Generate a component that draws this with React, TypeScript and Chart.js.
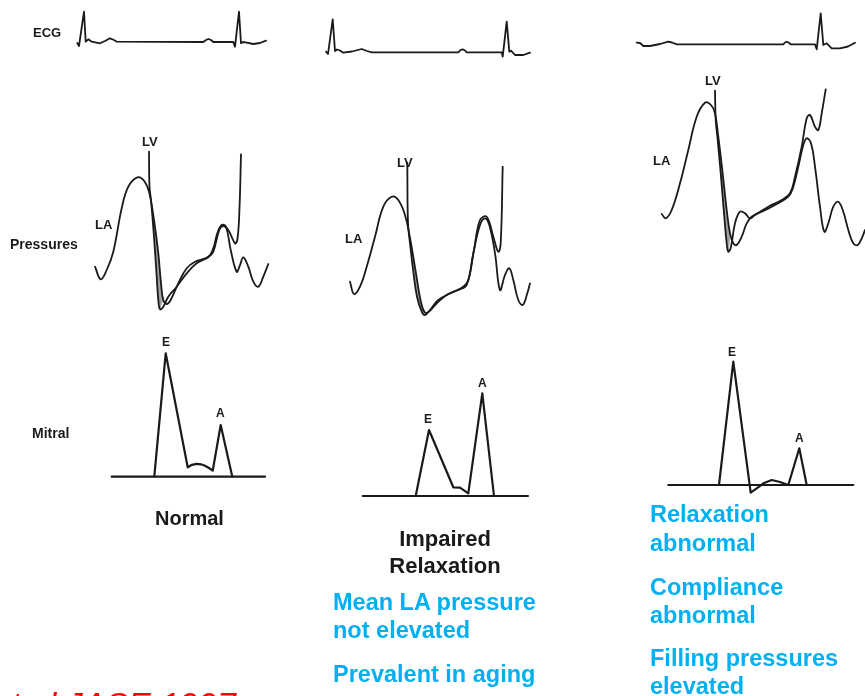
import React, { useEffect, useRef } from "react";
import { Chart, registerables } from "chart.js";

Chart.register(...registerables);

type P = [number, number];

// ---- ECG traces ----
const ecgNormal: P[] = [[77.3,43],[79,46],[84,11.7],[85.7,41.7],[88.3,39.3],[91.7,41.7],[100,43.3],[105,41],[110,38.3],[114,40],[116.7,41.7],[203.3,42],[206,40],[208.3,39],[211,40],[213.3,42],[233.3,42],[235,46.7],[239,11.7],[241,43.3],[243,42],[246.7,42.7],[253.3,44],[260,43],[266,40.7]];
const ecgImpaired: P[] = [[326,51.7],[328,54],[332.7,19.3],[335,51],[337,49.5],[340,50.5],[343.3,52.7],[352,51.5],[361.7,49],[367,51],[371.7,52.3],[458.3,52.3],[460.5,50],[462.7,49.3],[465,50.5],[466.7,52.3],[501.7,52.3],[502.7,56.7],[506.7,21.7],[509.3,51.7],[511,50.7],[515,55],[523.3,55],[530,52.7]];
const ecgRestrictive: P[] = [[636.7,42.7],[640,43],[643.3,46],[650,46],[660,44],[668.3,41.7],[672,42.5],[676.7,44.3],[783.3,44.3],[785,42.5],[786.7,41.7],[788.5,42.5],[790.7,44.3],[815,44.3],[816.7,49.3],[820.7,13.3],[823.3,45],[826.7,43.3],[831.7,48.3],[840,48.3],[848,46.5],[855,42.7]];

// ---- Pressure traces (LA / LV) ----
const laNormal: P[] = [[95,266.7],[100.7,279.3],[106.7,270],[113.3,251.7],[121.7,208.3],[128.3,186.7],[137.3,177.3],[144,180.7],[149,191.7],[154,220],[158.3,253.3],[161,283.3],[163.3,300],[166.7,304],[170.7,300],[178.3,283.3],[186.7,268.3],[195,261.7],[208.3,256.7],[213.3,248.3],[217.3,233.3],[221.7,225],[226,226.7],[230.7,250],[236.7,271.7],[240,265],[243.3,257.3],[248.3,266.7],[253.3,281.7],[258.3,286.7],[263.3,276.7],[268.3,264]];
const lvNormal: P[] = [[149,151.7],[149.5,186.7],[151,200],[154,236.7],[156.7,276.7],[158.3,300],[160,309.3],[163.3,306.7],[168.3,296.7],[176.7,286.7],[186.7,273.3],[196.7,263.3],[208.3,257.3],[213.3,251.7],[219.3,230],[223.3,226],[228.3,230],[235,243.3],[237.3,240],[239.3,213.3],[241,154.3]];
const gradNormal: P[] = [[151,200],[154,236.7],[156.7,276.7],[158.3,300],[160,309.3],[163.3,300],[161,283.3],[158.3,253.3],[154,220],[151.5,202]];

const laImpaired: P[] = [[350,281.7],[354,294],[360,286.7],[366.7,266.7],[375,236.7],[383.3,206.7],[391.7,196.7],[398.3,200],[405,215],[410,238],[416,273.3],[420.5,300],[425,312.7],[430,310.7],[436.7,303.3],[446.7,295],[458.3,290],[466.7,285],[473.3,253.3],[480,225],[485,218.3],[489.3,225],[495,253.3],[500,290],[505,275],[509.3,268.3],[513.3,280],[518.3,300],[522.7,305],[527.3,293.3],[530,283.3]];
const lvImpaired: P[] = [[407.3,162.7],[408,223.3],[410,243.3],[413.5,273.3],[417,296.7],[421.7,311.7],[425,315],[430,310],[438.3,300],[450,293.3],[463.3,286.7],[468.3,280],[474,250],[480,220],[486.7,216.7],[493.3,236.7],[498.3,251.7],[500.7,243.3],[502.7,166.7]];
const gradImpaired: P[] = [[408.5,228],[410,243.3],[413.5,273.3],[417,296.7],[421.7,311.7],[425,313],[420.5,300],[416,273.3],[410.5,240]];

const laRestrictive: P[] = [[661.7,214],[665.7,218.3],[671.7,210],[680,183.3],[688.3,150],[696.7,116.7],[705,102.7],[711,105],[715,113.3],[718.3,136.7],[722.3,170],[726.7,210],[730,233.3],[733.3,243.3],[736.7,245],[741.7,236.7],[746.7,223.3],[751.7,216.7],[761.7,211.7],[775,205],[788.3,196.7],[793.3,186.7],[798.3,166.7],[803.3,145],[806.7,138.3],[811,143.3],[815,166.7],[820,206.7],[824.3,231.7],[828.3,223.3],[833.3,206.7],[838.3,201.7],[843.3,211.7],[848.3,230],[853.3,243.3],[857.7,245],[861.7,238.3],[865,230]];
const lvRestrictive: P[] = [[715,90.7],[715.7,120],[717.7,140],[721,176.7],[724.3,216.7],[726.7,243.3],[728.3,251.7],[731,246.7],[735,223.3],[740,211.7],[745,213.3],[750,218.3],[755,215],[768.3,206.7],[781.7,200],[790,193.3],[795,176.7],[801.7,146.7],[806.7,118.3],[810,115],[815,126.7],[818.3,130],[821.7,113.3],[825.7,89.3]];
const gradRestrictive: P[] = [[716.3,128],[717.7,140],[721,176.7],[724.3,216.7],[726.7,243.3],[728.3,251.7],[730,240],[730,233.3],[726.7,210],[722.3,170],[718.3,136.7]];

// ---- Mitral inflow traces ----
const mitralNormal: P[] = [[154.3,476.7],[165.7,353.3],[187.7,467.3],[192,464.8],[196.7,463.8],[201,464.3],[205,465.7],[209,468],[212.7,470.7],[220.7,425],[232.3,476.7]];
const mitralNormalBase: P[] = [[111.7,476.7],[265,476.7]];
const mitralImpaired: P[] = [[415.7,496],[429,430],[453.3,487.3],[460,487.7],[468.3,493.3],[482.3,393.3],[494,496]];
const mitralImpairedBase: P[] = [[362.7,496],[528,496]];
const mitralRestrictive: P[] = [[719,485],[733.3,361.7],[750.7,492.7],[756.7,488.3],[764,483],[771.7,480],[780,482],[788.3,485],[799.3,448.3],[806.7,485]];
const mitralRestrictiveBase: P[] = [[668.3,485],[853.3,485]];

const INK = "#1a1a1a";
const BLUE = "#00b0f0";
const SANS = '"Liberation Sans", Arial, Helvetica, sans-serif';

type T = { t: string; x: number; b: number; s: number; c?: string; w?: string; i?: boolean; center?: boolean };

const texts: T[] = [
  { t: "ECG", x: 33, b: 37.5, s: 13 },
  { t: "Pressures", x: 10, b: 249, s: 14 },
  { t: "Mitral", x: 32, b: 438, s: 14 },
  { t: "LV", x: 142, b: 146, s: 13 },
  { t: "LA", x: 95, b: 229.5, s: 13 },
  { t: "LV", x: 397, b: 167, s: 13 },
  { t: "LA", x: 345, b: 243, s: 13 },
  { t: "LV", x: 705, b: 85, s: 13 },
  { t: "LA", x: 653, b: 165, s: 13 },
  { t: "E", x: 162, b: 346, s: 12 },
  { t: "A", x: 216, b: 417, s: 12 },
  { t: "E", x: 424, b: 423.5, s: 12 },
  { t: "A", x: 478, b: 387, s: 12 },
  { t: "E", x: 728, b: 356, s: 12 },
  { t: "A", x: 795, b: 442, s: 12 },
  { t: "Normal", x: 155, b: 525, s: 20 },
  { t: "Impaired", x: 445, b: 547, s: 22, center: true },
  { t: "Relaxation", x: 445, b: 574, s: 22, center: true },
  { t: "Mean LA pressure", x: 333, b: 611, s: 23.5, c: BLUE },
  { t: "not elevated", x: 333, b: 639, s: 23.5, c: BLUE },
  { t: "Prevalent in aging", x: 333, b: 683, s: 23.5, c: BLUE },
  { t: "Relaxation", x: 650, b: 523, s: 23.5, c: BLUE },
  { t: "abnormal", x: 650, b: 552, s: 23.5, c: BLUE },
  { t: "Compliance", x: 650, b: 596, s: 23.5, c: BLUE },
  { t: "abnormal", x: 650, b: 624, s: 23.5, c: BLUE },
  { t: "Filling pressures", x: 650, b: 667, s: 23.5, c: BLUE },
  { t: "elevated", x: 650, b: 695, s: 23.5, c: BLUE },
  { t: "et al JASE 1997", x: -8, b: 716, s: 34, c: "#ff0000", w: "normal", i: true },
];

const toXY = (pts: P[]) => pts.map(([x, y]) => ({ x, y }));

const trace = (pts: P[], width: number, tension: number) => ({
  data: toXY(pts),
  showLine: true,
  borderColor: INK,
  borderWidth: width,
  pointRadius: 0,
  tension,
  fill: false,
  borderJoinStyle: "round" as const,
  borderCapStyle: "round" as const,
  order: 1,
});

const shade = (pts: P[]) => ({
  data: toXY(pts),
  showLine: true,
  borderColor: "rgba(0,0,0,0)",
  borderWidth: 0,
  backgroundColor: "#a2a2a2",
  pointRadius: 0,
  tension: 0,
  fill: "shape",
  order: 10,
});

export default function App() {
  const ref = useRef<HTMLCanvasElement>(null);
  useEffect(() => {
    if (!ref.current) return;
    const chart = new Chart(ref.current, {
      type: "scatter",
      data: {
        datasets: [
          shade(gradNormal),
          shade(gradImpaired),
          shade(gradRestrictive),
          trace(ecgNormal, 1.8, 0),
          trace(ecgImpaired, 1.8, 0),
          trace(ecgRestrictive, 1.8, 0),
          trace(laNormal, 1.8, 0.4),
          trace(lvNormal, 1.8, 0.4),
          trace(laImpaired, 1.8, 0.4),
          trace(lvImpaired, 1.8, 0.4),
          trace(laRestrictive, 1.8, 0.4),
          trace(lvRestrictive, 1.8, 0.4),
          trace(mitralNormal, 2.2, 0),
          trace(mitralNormalBase, 2.2, 0),
          trace(mitralImpaired, 2.2, 0),
          trace(mitralImpairedBase, 2.2, 0),
          trace(mitralRestrictive, 2.2, 0),
          trace(mitralRestrictiveBase, 2.2, 0),
        ] as any,
      },
      options: {
        animation: false,
        responsive: false,
        events: [],
        layout: { padding: 0 },
        plugins: { legend: { display: false }, tooltip: { enabled: false } },
        scales: {
          x: { type: "linear", min: 0, max: 865, display: false },
          y: { type: "linear", min: 0, max: 696, reverse: true, display: false },
        },
      },
    });
    return () => chart.destroy();
  }, []);

  return (
    <div style={{ position: "absolute", left: 0, top: 0, width: 865, height: 696, overflow: "hidden", background: "#fff" }}>
      <canvas ref={ref} width={865} height={696} style={{ position: "absolute", left: 0, top: 0, width: 865, height: 696 }} />
      {texts.map((d, k) => (
        <div
          key={k}
          style={{
            position: "absolute",
            left: d.x,
            top: d.b - 0.8465 * d.s,
            fontFamily: SANS,
            fontSize: d.s,
            lineHeight: `${d.s}px`,
            fontWeight: (d.w ?? "bold") as any,
            fontStyle: d.i ? "italic" : "normal",
            color: d.c ?? INK,
            whiteSpace: "nowrap",
            transform: d.center ? "translateX(-50%)" : undefined,
          }}
        >
          {d.t}
        </div>
      ))}
    </div>
  );
}
